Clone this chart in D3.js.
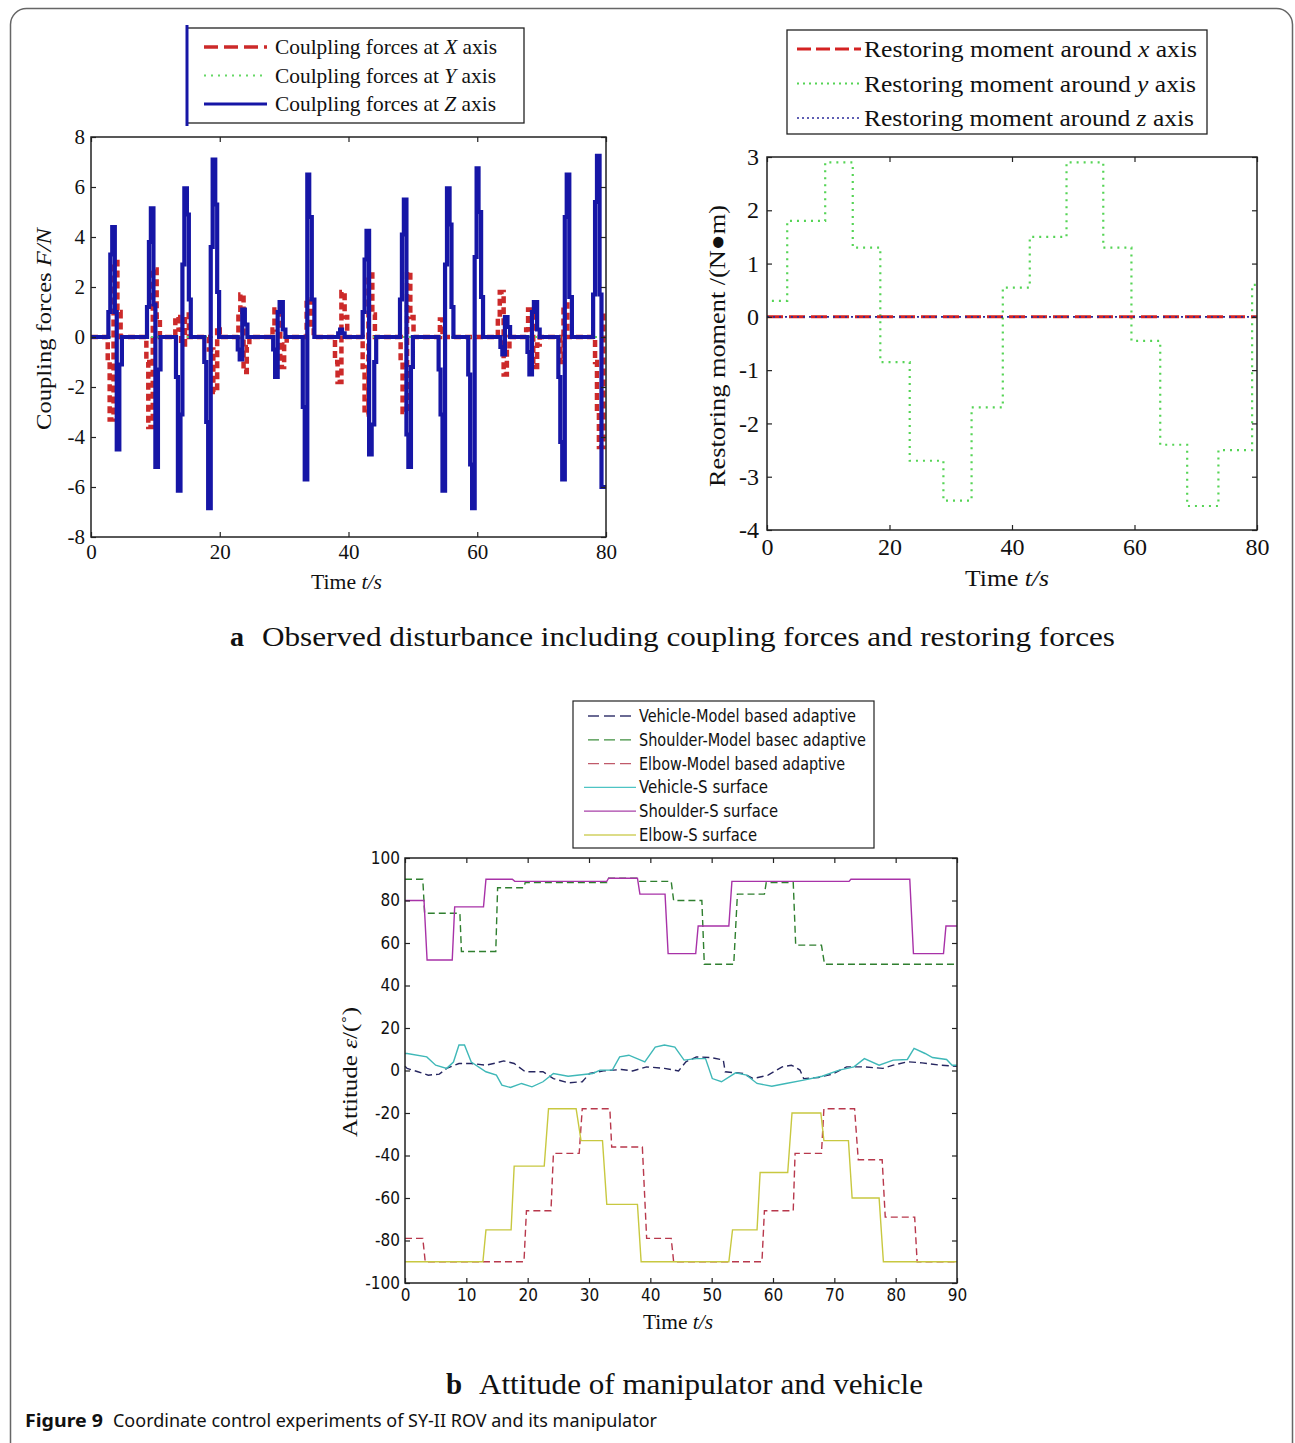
<html lang="en">
<head>
<meta charset="utf-8">
<title>Figure 9</title>
<style>
  body { margin: 0; background: #fff; }
  .serif { font-family: "Liberation Serif", "Times New Roman", serif; fill: #111; }
  .narrow { font-family: "Liberation Sans Narrow", "DejaVu Sans Condensed", "Liberation Sans", sans-serif; font-stretch: condensed; fill: #111; }
  .tick line { stroke: #222; stroke-width: 1.2; }
  .frame { fill: none; stroke: #222; stroke-width: 1.5; }
</style>
<script src="https://d3js.org/d3.v7.min.js"></script>
</head>
<body>
<svg id="fig" width="1295" height="1443"></svg>
<script>
// ---------- data: (a) coupling forces, step points [t, value] ----------
var couplingX = [[0,0],
  [2.6,-1.0],[2.9,-3.3],[3.5,3.0],[4.1,1.0],[4.6,0],
  [8.6,-1.0],[8.9,-3.6],[9.6,2.7],[10.2,0.8],[10.7,0],
  [13.1,0.8],[13.6,0.3],[14.0,-0.3],[14.6,0.9],[15.2,0],
  [18.3,-0.5],[19.0,-2.2],[19.6,0.4],[20.0,0],
  [22.9,1.0],[23.2,1.7],[23.7,-1.4],[24.2,-0.4],[24.6,0],
  [28.2,0.3],[28.5,1.1],[29.4,-1.2],[30.0,-0.3],[30.4,0],
  [33.5,1.5],[34.2,0.5],[34.6,0],
  [37.9,-1.0],[38.3,-1.8],[38.9,1.8],[39.4,0.8],[39.8,0],
  [42.2,-1.2],[42.5,-3.1],[43.1,2.5],[43.7,0.9],[44.1,0],
  [48.1,-1.0],[48.4,-3.0],[49.1,2.6],[49.6,0.8],[50.1,0],
  [54.2,0.7],[54.6,0.2],[55.0,0],
  [63.2,0.8],[63.5,1.8],[64.1,-1.5],[64.6,-0.5],[65.0,0],
  [67.6,0.3],[67.9,1.1],[68.7,-1.2],[69.3,-0.3],[69.7,0],
  [72.9,-1.0],[73.4,1.3],[74.0,0],
  [78.3,-1.0],[78.6,-3.0],[78.9,-4.4],[79.6,1.0],[80,1.0]];
var couplingY = [[0,0],[80,0]];
var couplingZ = [[0,0],
  [2.7,1.0],[3.0,3.3],[3.3,4.4],[3.7,1.0],[4.0,-4.5],[4.4,-1.1],[4.8,0],
  [8.7,1.2],[9.0,3.8],[9.3,5.15],[9.7,1.3],[10.0,-5.2],[10.4,-1.3],[10.8,0],
  [13.2,-1.6],[13.5,-6.15],[13.9,-3.1],[14.2,2.9],[14.5,5.95],[14.9,4.9],[15.2,1.5],[15.5,0],
  [17.6,-1.0],[17.9,-3.4],[18.2,-6.85],[18.6,3.6],[18.9,7.1],[19.3,5.3],[19.6,1.8],[19.9,0],
  [22.8,-0.5],[23.1,-0.9],[23.5,1.1],[23.9,0.5],[24.3,0],
  [28.3,-0.5],[28.6,-1.6],[29.0,1.0],[29.3,1.4],[29.8,0.3],[30.2,0],
  [32.9,-2.8],[33.2,-5.7],[33.6,6.5],[33.9,4.8],[34.3,1.5],[34.7,0],
  [38.4,0.15],[38.7,0.3],[39.0,0.15],[39.4,0],
  [42.2,1.0],[42.5,3.1],[42.8,4.25],[43.2,-4.7],[43.6,-3.5],[44.0,-1.0],[44.3,0],
  [48.0,1.5],[48.3,4.1],[48.6,5.5],[49.0,-3.9],[49.3,-5.2],[49.7,-1.2],[50.0,0],
  [54.0,-1.3],[54.3,-3.1],[54.6,-6.15],[55.0,2.9],[55.3,5.95],[55.7,4.5],[56.0,1.2],[56.3,0],
  [58.6,-1.5],[58.9,-5.1],[59.2,-6.85],[59.6,3.2],[59.9,6.75],[60.2,5.0],[60.6,1.6],[60.9,0],
  [63.6,-0.4],[63.9,-0.7],[64.3,0.8],[64.7,0.4],[65.1,0],
  [67.8,-0.6],[68.1,-1.5],[68.5,1.0],[68.8,1.4],[69.3,0.3],[69.7,0],
  [72.6,-1.6],[72.9,-4.2],[73.2,-5.7],[73.6,4.8],[73.9,6.5],[74.3,1.6],[74.7,0],
  [78.0,1.7],[78.3,5.4],[78.6,7.25],[79.0,1.7],[79.3,-6.0],[80,-6.0]];

// ---------- data: (a) restoring moments ----------
var momentX = [[0,0],[80,0]];
var momentY = [[0.8,0.3],[3.3,1.8],[9.5,2.9],[14,1.3],[18.5,-0.85],[23.3,-2.7],[28.8,-3.45],
  [33.4,-1.7],[38.5,0.55],[42.9,1.5],[48.9,2.9],[54.9,1.3],[59.5,-0.45],[64.2,-2.4],
  [68.6,-3.55],[73.7,-2.5],[79.2,0.6],[80,0.6]];
var momentZ = [[0,0],[80,0]];

// ---------- data: (b) attitude ----------
var vehicleModel = [[0,2],[0.35,1],[2.1,-0.6],[3.8,-2.2],[5.6,-1.7],[6.8,1],[8.8,3.3],[10.8,3.3],
  [13.2,2.5],[14.9,3.6],[16.1,4.5],[17.8,3.3],[19.6,-0.6],[22.5,-0.6],[24.2,-3.8],[26.6,-5.8],
  [28.9,-5.3],[30.1,-1.4],[32.4,-0.2],[35.3,0.5],[37.1,-0.2],[39.4,1.7],[42.3,1],[44.6,-0.2],
  [45.8,4.1],[47.5,6.4],[49.9,6.1],[51.9,4.9],[52.2,-0.6],[55.1,-1.4],[56.8,-3.8],[59.2,-2.2],
  [61.5,1.7],[63.0,2.5],[64.4,0.2],[65.0,-3.8],[67.4,-3.3],[69.7,-1.7],[72.0,1.7],[74.9,1.7],
  [77.9,1],[79.6,2.5],[81.9,4.1],[84.3,3.6],[87.2,2.5],[90,2]];
var shoulderModel = [[0,90],[2.9,90],[3.2,74],[8.95,74],[9.2,56],[14.8,56],[15.1,86],[19.4,86],
  [19.6,88.5],[32.9,88.5],[33.2,90.5],[37.9,90.5],[38.2,89],[43.4,89],[43.8,80],[48.4,80],
  [48.8,50],[53.6,50],[54.2,83],[58.6,83],[58.9,88.5],[63.3,88.5],[63.7,59],[67.9,59],
  [68.4,50],[90,50]];
var elbowModel = [[0,-79],[2.9,-79],[3.3,-90],[19.4,-90],[19.8,-66],[23.8,-66],[24.2,-39],
  [28.4,-39],[28.9,-18],[33.4,-18],[33.7,-36],[38.7,-36],[39.4,-79],[43.4,-79],[43.8,-90],
  [58.2,-90],[58.6,-66],[63.3,-66],[63.6,-39],[67.9,-39],[68.3,-18],[73.3,-18],[73.9,-42],
  [77.8,-42],[78.3,-69],[83.1,-69],[83.5,-90],[90,-90]];
var vehicleS = [[0,8],[0.35,8],[3.55,6.4],[5.0,2.5],[6.8,1],[7.9,4],[8.8,12],[9.7,12],[10.8,4],
  [13.2,-0.6],[14.9,-2.2],[15.8,-6.9],[17.2,-8],[19.0,-6.1],[20.7,-7.7],[22.5,-5.3],[24.2,-1.4],
  [26.6,-2.7],[30.6,-1.4],[31.8,0.2],[33.8,0.2],[35.0,6.4],[36.5,7.2],[39.1,4],[40.8,11],
  [42.3,12],[44.0,11],[45.5,4.9],[47.5,5.6],[49.0,5.6],[50.1,-3.8],[51.6,-5.3],[53.9,-1.1],
  [55.7,-2.2],[57.4,-6.1],[59.8,-7.4],[62.1,-6.1],[65.0,-4.5],[68.0,-2.7],[70.8,0.2],[73.2,1.7],
  [74.9,5.6],[77.3,2.5],[79.6,4.9],[81.9,5.2],[83.0,10.4],[84.8,8],[86.0,6.1],[88.3,5.2],
  [89.2,2.5],[90,2.5]];
var shoulderS = [[0,80],[3.1,80],[3.6,52],[7.7,52],[8.1,77],[12.8,77],[13.2,90],[17.5,90],
  [17.9,89],[32.9,89],[33.2,90.5],[37.9,90.5],[38.3,83],[42.4,83],[42.9,55],[47.4,55],
  [47.8,68],[52.8,68],[53.3,89],[72.4,89],[72.7,90],[82.3,90],[82.9,55],[87.8,55],
  [88.2,68],[90,68]];
var elbowS = [[0,-90],[12.7,-90],[13.2,-75],[17.3,-75],[17.8,-45],[22.7,-45],[23.4,-18],
  [27.9,-18],[28.7,-33],[32.2,-33],[32.9,-63],[37.9,-63],[38.5,-90],[52.8,-90],[53.4,-75],
  [57.4,-75],[57.9,-48],[62.4,-48],[63.1,-20],[67.8,-20],[68.3,-33],[72.3,-33],[72.9,-60],
  [77.3,-60],[78,-90],[90,-90]];

// tick values
var forceXTicks = [0, 20, 40, 60, 80];
var forceYTicks = [-8, -6, -4, -2, 0, 2, 4, 6, 8];
var momentXTicks = [0, 20, 40, 60, 80];
var momentYTicks = [-4, -3, -2, -1, 0, 1, 2, 3];
var attXTicks = [0, 10, 20, 30, 40, 50, 60, 70, 80, 90];
var attYTicks = [-100, -80, -60, -40, -20, 0, 20, 40, 60, 80, 100];

// legend labels
var forceLegend = [["Coulpling forces at ", "X", " axis"], ["Coulpling forces at ", "Y", " axis"], ["Coulpling forces at ", "Z", " axis"]];
var momentLegend = [["Restoring moment around ", "x", " axis"], ["Restoring moment around ", "y", " axis"], ["Restoring moment around ", "z", " axis"]];
var attLegend = ["Vehicle-Model based adaptive", "Shoulder-Model basec adaptive", "Elbow-Model based adaptive",
  "Vehicle-S surface", "Shoulder-S surface", "Elbow-S surface"];

var svg = d3.select("#fig");

// outer rounded frame
svg.append("rect").attr("x", 10.5).attr("y", 8.5).attr("width", 1282).attr("height", 1460)
  .attr("rx", 16).attr("fill", "none").attr("stroke", "#666").attr("stroke-width", 1.5);

// MATLAB-like box with inner ticks on all four sides
function drawFrame(x, y, xt, yt, cls, fs, xpad, ypad) {
  var g = svg.append("g");
  var x0 = x.range()[0], x1 = x.range()[1], y0 = y.range()[0], y1 = y.range()[1];
  var styleText = function(s) {
    s.select(".domain").remove();
    s.selectAll("text").attr("class", cls).attr("fill", "#111").style("font-size", fs + "px");
  };
  g.append("g").attr("transform", "translate(0," + y0 + ")")
    .call(d3.axisBottom(x).tickValues(xt).tickSize(-5).tickPadding(xpad).tickFormat(String))
    .call(styleText);
  g.append("g").attr("transform", "translate(0," + y1 + ")")
    .call(d3.axisTop(x).tickValues(xt).tickSize(-5).tickFormat(""))
    .call(styleText);
  g.append("g").attr("transform", "translate(" + x0 + ",0)")
    .call(d3.axisLeft(y).tickValues(yt).tickSize(-5).tickPadding(ypad).tickFormat(String))
    .call(styleText);
  g.append("g").attr("transform", "translate(" + x1 + ",0)")
    .call(d3.axisRight(y).tickValues(yt).tickSize(-5).tickFormat(""))
    .call(styleText);
  g.append("rect").attr("class", "frame").attr("x", x0).attr("y", y1)
    .attr("width", x1 - x0).attr("height", y0 - y1);
  return g;
}

// text made of normal / italic parts, stretched to the width seen in the figure
function richText(parent, parts, attrs) {
  var t = parent.append("text");
  Object.keys(attrs).forEach(function(k) { t.attr(k, attrs[k]); });
  parts.forEach(function(p) {
    t.append("tspan").text(p[0]).style("font-style", p[1] ? "italic" : "normal");
  });
  if (attrs.textLength) t.attr("lengthAdjust", "spacingAndGlyphs");
  return t;
}

var stepLine = function(xs, ys) {
  return d3.line().x(function(d) { return xs(d[0]); }).y(function(d) { return ys(d[1]); }).curve(d3.curveStepAfter);
};

// ================= (a) left: coupling forces =================
var fx = d3.scaleLinear().domain([0, 80]).range([91, 606]);
var fy = d3.scaleLinear().domain([-8, 8]).range([537, 137]);
var fLine = stepLine(fx, fy);
svg.append("path").attr("d", fLine(couplingX)).attr("fill", "none")
  .attr("stroke", "#cc2a2a").attr("stroke-width", 4.5).attr("stroke-dasharray", "7,4");
svg.append("path").attr("d", fLine(couplingY)).attr("fill", "none")
  .attr("stroke", "#66d866").attr("stroke-width", 2).attr("stroke-dasharray", "2,4");
svg.append("path").attr("d", fLine(couplingZ)).attr("fill", "none")
  .attr("stroke", "#1616a6").attr("stroke-width", 4.2).attr("stroke-linejoin", "miter");
drawFrame(fx, fy, forceXTicks, forceYTicks, "serif", 21, 7, 6);

richText(svg, [["Coupling forces ", false], ["F/N", true]],
  {"class": "serif", "transform": "translate(51,329) rotate(-90)", "x": -101, "font-size": 21, "textLength": 202});
richText(svg, [["Time ", false], ["t/s", true]],
  {"class": "serif", "x": 311, "y": 589, "font-size": 21, "textLength": 71});

// legend (a-left)
var lg1 = svg.append("g");
lg1.append("rect").attr("x", 187).attr("y", 28).attr("width", 337).attr("height", 95)
  .attr("fill", "#fff").attr("stroke", "#222").attr("stroke-width", 1.3);
lg1.append("line").attr("x1", 187).attr("x2", 187).attr("y1", 25).attr("y2", 126)
  .attr("stroke", "#1616a6").attr("stroke-width", 3);
var lg1Styles = [{c: "#cc2a2a", w: 3.5, d: "14,6"}, {c: "#66d866", w: 2, d: "2,5"}, {c: "#1616a6", w: 3, d: null}];
var lg1Widths = [222, 221, 221];
forceLegend.forEach(function(p, i) {
  var yy = 47 + i * 28.5;
  lg1.append("line").attr("x1", 204).attr("x2", 267).attr("y1", yy).attr("y2", yy)
    .attr("stroke", lg1Styles[i].c).attr("stroke-width", lg1Styles[i].w)
    .attr("stroke-dasharray", lg1Styles[i].d);
  richText(lg1, [[p[0], false], [p[1], true], [p[2], false]],
    {"class": "serif", "x": 275, "y": yy + 7, "font-size": 21, "textLength": lg1Widths[i]});
});

// ================= (a) right: restoring moments =================
var mx = d3.scaleLinear().domain([0, 80]).range([767, 1257]);
var my = d3.scaleLinear().domain([-4, 3]).range([530, 157]);
var mLine = stepLine(mx, my);
svg.append("path").attr("d", mLine(momentY)).attr("fill", "none")
  .attr("stroke", "#55d455").attr("stroke-width", 2.2).attr("stroke-dasharray", "2,5");
svg.append("path").attr("d", mLine(momentX)).attr("fill", "none")
  .attr("stroke", "#d42222").attr("stroke-width", 3).attr("stroke-dasharray", "16,6");
svg.append("path").attr("d", mLine(momentZ)).attr("fill", "none")
  .attr("stroke", "#2a2a9a").attr("stroke-width", 1.6).attr("stroke-dasharray", "2,4");
drawFrame(mx, my, momentXTicks, momentYTicks, "serif", 24, 8, 8);

richText(svg, [["Restoring moment /(N\u25CFm)", false]],
  {"class": "serif", "transform": "translate(725,346) rotate(-90)", "x": -141, "font-size": 24, "textLength": 282});
richText(svg, [["Time ", false], ["t/s", true]],
  {"class": "serif", "x": 965, "y": 586, "font-size": 24, "textLength": 84});

var lg2 = svg.append("g");
lg2.append("rect").attr("x", 787).attr("y", 30).attr("width", 420).attr("height", 104)
  .attr("fill", "#fff").attr("stroke", "#222").attr("stroke-width", 1.3);
var lg2Styles = [{c: "#d42222", w: 3, d: "14,5"}, {c: "#55d455", w: 2, d: "2,4"}, {c: "#2a2a9a", w: 1.6, d: "2,3"}];
var lg2Widths = [333, 332, 330];
momentLegend.forEach(function(p, i) {
  var yy = 49 + i * 34.5;
  lg2.append("line").attr("x1", 797).attr("x2", 861).attr("y1", yy).attr("y2", yy)
    .attr("stroke", lg2Styles[i].c).attr("stroke-width", lg2Styles[i].w)
    .attr("stroke-dasharray", lg2Styles[i].d);
  richText(lg2, [[p[0], false], [p[1], true], [p[2], false]],
    {"class": "serif", "x": 864, "y": yy + 8, "font-size": 24, "textLength": lg2Widths[i]});
});

// caption a
svg.append("text").attr("class", "serif").attr("x", 230).attr("y", 646)
  .attr("font-size", 28).attr("font-weight", "bold").text("a");
richText(svg, [["Observed disturbance including coupling forces and restoring forces", false]],
  {"class": "serif", "x": 262, "y": 646, "font-size": 28, "textLength": 853});

// ================= (b) attitude =================
var ax = d3.scaleLinear().domain([0, 90]).range([405, 957]);
var ay = d3.scaleLinear().domain([-100, 100]).range([1283, 858]);
var aLine = d3.line().x(function(d) { return ax(d[0]); }).y(function(d) { return ay(d[1]); });
var attSeries = [
  {d: vehicleModel, c: "#262660", dash: "7,4"},
  {d: shoulderModel, c: "#2f7f2f", dash: "7,4"},
  {d: elbowModel, c: "#b8384c", dash: "7,4"},
  {d: vehicleS, c: "#3fb8b8", dash: null},
  {d: shoulderS, c: "#a832a8", dash: null},
  {d: elbowS, c: "#c8c840", dash: null}
];
attSeries.forEach(function(s) {
  svg.append("path").attr("d", aLine(s.d)).attr("fill", "none").attr("stroke", s.c)
    .attr("stroke-width", 1.4).attr("stroke-dasharray", s.dash);
});
drawFrame(ax, ay, attXTicks, attYTicks, "narrow", 17, 6, 5);

richText(svg, [["Attitude ", false], ["\u03B5", true], ["/(\u02DA)", false]],
  {"class": "serif", "transform": "translate(357,1072) rotate(-90)", "x": -65, "font-size": 20, "textLength": 130});
richText(svg, [["Time ", false], ["t/s", true]],
  {"class": "serif", "x": 643, "y": 1329, "font-size": 20, "textLength": 70});

var lg3 = svg.append("g");
lg3.append("rect").attr("x", 573).attr("y", 701).attr("width", 301).attr("height", 147)
  .attr("fill", "#fff").attr("stroke", "#222").attr("stroke-width", 1.2);
var lg3Colors = ["#3a3a70", "#3f8f3f", "#c05a6a", "#4ec4c4", "#a840a8", "#d0d060"];
var lg3Widths = [217, 227, 206, 129, 139, 118];
attLegend.forEach(function(name, i) {
  var yy = 716 + i * 23.8;
  lg3.append("line").attr("x1", i < 3 ? 588 : 584).attr("x2", 636).attr("y1", yy).attr("y2", yy)
    .attr("stroke", lg3Colors[i]).attr("stroke-width", 1.3).attr("stroke-dasharray", i < 3 ? "11,5" : null);
  richText(lg3, [[name, false]],
    {"class": "narrow", "x": 639, "y": yy + 6, "font-size": 17, "textLength": lg3Widths[i]});
});

// caption b
svg.append("text").attr("class", "serif").attr("x", 446).attr("y", 1394)
  .attr("font-size", 29).attr("font-weight", "bold").text("b");
richText(svg, [["Attitude of manipulator and vehicle", false]],
  {"class": "serif", "x": 479, "y": 1394, "font-size": 29, "textLength": 444});

// figure caption
var capFont = "'Noto Sans', 'Open Sans', sans-serif";
svg.append("text").attr("x", 25).attr("y", 1427).attr("font-size", 18).attr("font-weight", "bold")
  .style("font-family", capFont).attr("fill", "#111")
  .attr("textLength", 78).attr("lengthAdjust", "spacingAndGlyphs").text("Figure 9");
svg.append("text").attr("x", 113).attr("y", 1427).attr("font-size", 18)
  .style("font-family", capFont).attr("fill", "#111")
  .attr("textLength", 544).attr("lengthAdjust", "spacingAndGlyphs")
  .text("Coordinate control experiments of SY-II ROV and its manipulator");
</script>
</body>
</html>
